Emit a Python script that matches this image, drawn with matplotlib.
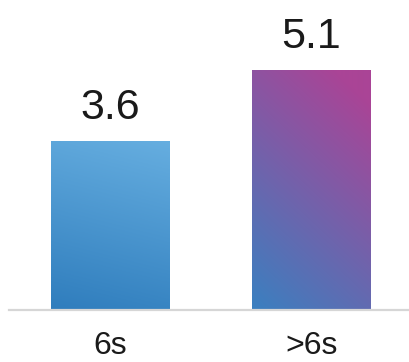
import numpy as np
import matplotlib
matplotlib.use("Agg")
import matplotlib.pyplot as plt
from matplotlib.colors import LinearSegmentedColormap

plt.rcParams["font.family"] = ["Liberation Sans", "DejaVu Sans"]

categories = ["6s", ">6s"]
values = [3.6, 5.1]

# bottom-left colour -> top-right colour for each bar
bar_colors = [("#2f7dbd", "#66aee0"), ("#3a80c0", "#aa4496")]
mix = [(0.15, 0.85), (0.35, 0.75)]

fig = plt.figure(figsize=(4.10, 3.62), dpi=100)
ax = fig.add_axes([9 / 410, 52 / 362, 401 / 410, 310 / 362])

width = 0.592
x = np.arange(len(categories))
ax.set_xlim(-(110.5 - 9) / 201, (410 - 110.5) / 201)
ax.set_ylim(0, 310 / 47.05)

gx, gy = np.meshgrid(np.linspace(0, 1, 120), np.linspace(0, 1, 240))
for i, (xi, v) in enumerate(zip(x, values)):
    bar = ax.bar(xi, v, width=width, color="none", edgecolor="none")[0]
    cmap = LinearSegmentedColormap.from_list("g%d" % i, bar_colors[i])
    t = np.clip(mix[i][0] * gx + mix[i][1] * gy, 0, 1)
    im = ax.imshow(t, cmap=cmap, vmin=0, vmax=1, origin="lower", aspect="auto",
                   extent=[xi - width / 2, xi + width / 2, 0, v],
                   interpolation="bilinear", zorder=2)
    im.set_clip_path(bar)
    ax.text(xi, v + 0.46, "%.1f" % v, ha="center", va="baseline",
            fontsize=31, color="#1a1a1a")
    # category label under the baseline
    ax.text(xi, -0.93, categories[i], ha="center", va="baseline",
            fontsize=23, color="#1a1a1a", clip_on=False)

ax.axhline(0, color="#d6d6d6", lw=1.6, zorder=3, clip_on=False)

ax.set_xticks([])
ax.set_yticks([])
for s in ax.spines.values():
    s.set_visible(False)

fig.savefig("out.png", dpi=100)
